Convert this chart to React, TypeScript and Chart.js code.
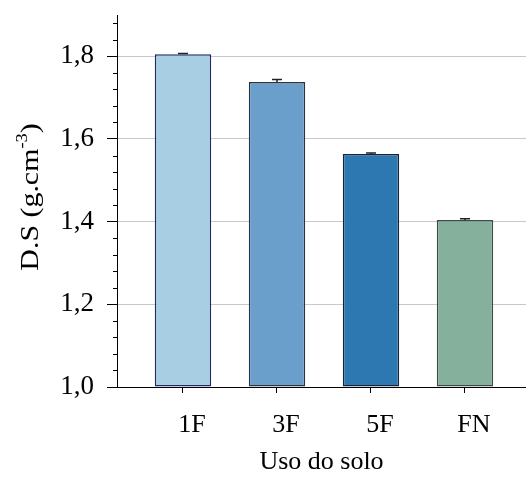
import React, { useEffect, useRef } from "react";
import { Chart, registerables } from "chart.js";

Chart.register(...registerables);

const categories = ["1F", "3F", "5F", "FN"];
const values = [1.805, 1.738, 1.564, 1.404];
const errors = [0.002, 0.006, 0.002, 0.003];
const yMajorTicks = [1.0, 1.2, 1.4, 1.6, 1.8];
const yTickLabels = ["1,0", "1,2", "1,4", "1,6", "1,8"];
const yMin = 1.0;
const yMax = 1.9;
const yMinorStep = 0.04;
const barColors = ["#a7cee3", "#6a9fcb", "#2e78b1", "#85b09b"];
const barBorders = ["#1e2a66", "#2a3340", "#15233d", "#3b4a44"];
const yTitleMain = "D.S (g.cm";
const yTitleSup = "-3";
const yTitleEnd = ")";
const xTitle = "Uso do solo";

const FONT = "'Liberation Serif', 'Times New Roman', serif";

const extrasPlugin = {
  id: "extras",
  afterDatasetsDraw(chart: any) {
    const ctx = chart.ctx;
    const y = chart.scales.y;
    const meta = chart.getDatasetMeta(0);
    ctx.save();
    ctx.strokeStyle = "#222";
    ctx.lineWidth = 1.5;
    meta.data.forEach((bar: any, i: number) => {
      const x = bar.x;
      const top = y.getPixelForValue(values[i] + errors[i]);
      const bot = y.getPixelForValue(values[i]);
      ctx.beginPath();
      ctx.moveTo(x, bot);
      ctx.lineTo(x, top);
      ctx.moveTo(x - 5, top);
      ctx.lineTo(x + 5, top);
      ctx.stroke();
    });
    ctx.restore();
  },
  afterDraw(chart: any) {
    const ctx = chart.ctx;
    const y = chart.scales.y;
    const left = chart.chartArea.left;
    ctx.save();
    ctx.strokeStyle = "#000";
    ctx.lineWidth = 1;
    const n = Math.round((yMax - yMin) / yMinorStep);
    for (let i = 0; i <= n; i++) {
      if (i % 5 === 0) continue;
      const v = yMin + i * yMinorStep;
      if (v > yMax + 1e-9) break;
      const py = Math.round(y.getPixelForValue(v)) + 0.5;
      ctx.beginPath();
      ctx.moveTo(left - 4, py);
      ctx.lineTo(left, py);
      ctx.stroke();
    }
    const cy = (chart.chartArea.top + chart.chartArea.bottom) / 2 - 4;
    ctx.translate(38, cy);
    ctx.rotate(-Math.PI / 2);
    ctx.scale(1.15, 1);
    ctx.fillStyle = "#000";
    ctx.textBaseline = "alphabetic";
    ctx.textAlign = "left";
    const mainFont = `26px ${FONT}`;
    const supFont = `16px ${FONT}`;
    ctx.font = mainFont;
    const w1 = ctx.measureText(yTitleMain).width;
    const w3 = ctx.measureText(yTitleEnd).width;
    ctx.font = supFont;
    const w2 = ctx.measureText(yTitleSup).width;
    const total = w1 + w2 + w3;
    let x = -total / 2;
    ctx.font = mainFont;
    ctx.fillText(yTitleMain, x, 0);
    x += w1;
    ctx.font = supFont;
    ctx.fillText(yTitleSup, x, -11);
    x += w2;
    ctx.font = mainFont;
    ctx.fillText(yTitleEnd, x, 0);
    ctx.restore();
  },
};

export default function App() {
  const ref = useRef<HTMLCanvasElement | null>(null);
  useEffect(() => {
    if (!ref.current) return;
    const chart = new Chart(ref.current, {
      type: "bar",
      data: {
        datasets: [
          {
            data: values.map((v, i) => ({ x: i, y: v })),
            backgroundColor: barColors,
            borderColor: barBorders,
            borderWidth: 1.5,
            borderSkipped: false,
            base: yMin,
            categoryPercentage: 1,
            barPercentage: 0.6,
          } as any,
        ],
      },
      options: {
        responsive: false,
        animation: false,
        devicePixelRatio: 1,
        layout: { padding: { top: 15, left: 0, right: 0, bottom: 0 } },
        plugins: {
          legend: { display: false },
          tooltip: { enabled: false },
        },
        scales: {
          x: {
            type: "linear",
            offset: false,
            min: -0.702,
            max: 3.649,
            afterBuildTicks: (scale: any) => {
              scale.ticks = categories.map((_, i) => ({ value: i }));
            },
            afterFit: (scale: any) => {
              scale.height = 91;
              scale.paddingLeft = 0;
              scale.paddingRight = 0;
            },
            ticks: {
              autoSkip: false,
              maxRotation: 0,
              labelOffset: 9,
              padding: 17,
              color: "#000",
              font: { family: FONT, size: 26 },
              callback: (v: any) => categories[Math.round(v)] ?? "",
            },
            grid: {
              offset: false,
              drawOnChartArea: false,
              drawTicks: true,
              tickLength: 6,
              tickColor: "#000",
            },
            border: { color: "#000", width: 1 },
            title: {
              display: true,
              text: xTitle,
              color: "#000",
              font: { family: FONT, size: 26 },
              padding: { top: 0, bottom: 0 },
            },
          },
          y: {
            min: yMin,
            max: yMax,
            afterBuildTicks: (scale: any) => {
              scale.ticks = yMajorTicks.map((v) => ({ value: v }));
            },
            afterFit: (scale: any) => {
              scale.width = 117;
              scale.paddingTop = 0;
              scale.paddingBottom = 0;
            },
            ticks: {
              padding: 13,
              color: "#000",
              font: { family: FONT, size: 27 },
              callback: (_v: any, idx: number) => yTickLabels[idx],
            },
            grid: {
              color: "#c8c8c8",
              lineWidth: 1,
              tickLength: 10,
              tickColor: "#000",
            },
            border: { color: "#000", width: 1 },
          },
        },
      },
      plugins: [extrasPlugin],
    } as any);
    return () => chart.destroy();
  }, []);
  return (
    <div style={{ position: "absolute", left: 0, top: 0, width: 526, height: 478, background: "#fff" }}>
      <canvas ref={ref} width={526} height={478} style={{ display: "block" }} />
    </div>
  );
}
